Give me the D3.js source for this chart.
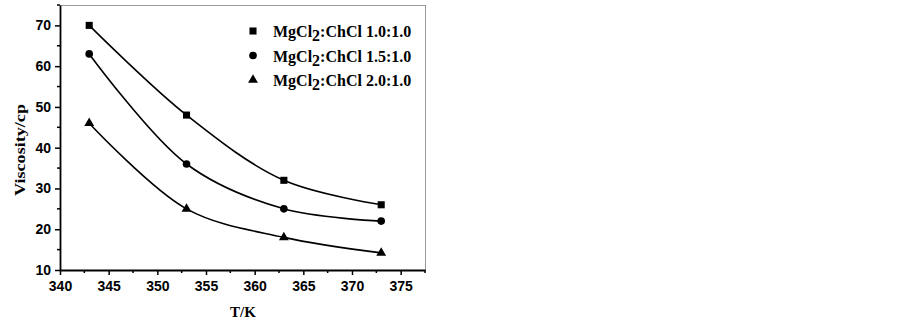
<!DOCTYPE html>
<html><head><meta charset="utf-8">
<script src="https://cdn.jsdelivr.net/npm/d3@7/dist/d3.min.js"></script>
<style>body{margin:0;background:#fff}</style>
</head><body>
<svg id="c" width="903" height="323"></svg>
<script>
const temps = [343, 353, 363, 373];
const s1 = [70, 48, 32, 26];
const s2 = [63, 36, 25, 22];
const s3 = [46, 25, 18, 14.2];
const seriesNames = ["1.0:1.0", "1.5:1.0", "2.0:1.0"];
const xTicks = [340, 345, 350, 355, 360, 365, 370, 375];
const yTicks = [10, 20, 30, 40, 50, 60, 70];

const svg = d3.select("#c");
const L = 60, R = 425, T = 5, B = 270;
const x = d3.scaleLinear().domain([340, 377.5]).range([L, R]);
const y = d3.scaleLinear().domain([10, 75]).range([B, T]);

// frame top/right
svg.append("line").attr("x1", L).attr("x2", R).attr("y1", T + 0.5).attr("y2", T + 0.5).attr("stroke", "#999").attr("stroke-width", 1);
svg.append("line").attr("x1", R + 0.5).attr("x2", R + 0.5).attr("y1", T).attr("y2", B).attr("stroke", "#999").attr("stroke-width", 1);

// minor ticks
const xMinor = d3.range(342.5, 378, 5);
const yMinor = d3.range(15, 76, 10);
svg.append("g").selectAll("line").data(xMinor).join("line")
  .attr("x1", d => x(d)).attr("x2", d => x(d)).attr("y1", B).attr("y2", B + 3)
  .attr("stroke", "#000").attr("stroke-width", 1.5);
svg.append("g").selectAll("line").data(yMinor).join("line")
  .attr("x1", L - 3).attr("x2", L).attr("y1", d => y(d)).attr("y2", d => y(d))
  .attr("stroke", "#000").attr("stroke-width", 1.5);

const xAxis = svg.append("g").attr("transform", `translate(0,${B})`)
  .call(d3.axisBottom(x).tickValues(xTicks).tickSize(5).tickSizeOuter(0));
const yAxis = svg.append("g").attr("transform", `translate(${L},0)`)
  .call(d3.axisLeft(y).tickValues(yTicks).tickSize(5).tickSizeOuter(0));
[xAxis, yAxis].forEach(g => {
  g.select(".domain").attr("stroke", "#000").attr("stroke-width", 1.8);
  g.selectAll(".tick line").attr("stroke", "#000").attr("stroke-width", 1.5);
  g.selectAll("text").attr("fill", "#000").attr("font-family", "Liberation Sans, Arial, sans-serif")
    .attr("font-weight", "bold").attr("font-size", 14);
});
xAxis.selectAll("text").attr("dy", "0.95em");
yAxis.selectAll("text").attr("dx", "-1px");

// titles
svg.append("text").attr("x", 243).attr("y", 317).attr("text-anchor", "middle")
  .attr("font-family", "Liberation Serif, Times New Roman, serif").attr("font-weight", "bold").attr("font-size", 15).text("T/K");
svg.append("text").attr("transform", "translate(25,150) rotate(-90)").attr("text-anchor", "middle")
  .attr("font-family", "Liberation Serif, Times New Roman, serif").attr("font-weight", "bold").attr("font-size", 15)
  .attr("textLength", 92).attr("lengthAdjust", "spacingAndGlyphs").text("Viscosity/cp");

const all = [s1, s2, s3];
const shapes = [d3.symbolSquare, d3.symbolCircle, d3.symbolTriangle];
const sizes = [50, 46, 42];
const line = d3.line().x((d, i) => x(temps[i])).y(d => y(d)).curve(d3.curveCatmullRom.alpha(0.5));

all.forEach((s, k) => {
  svg.append("path").datum(s).attr("d", line).attr("fill", "none").attr("stroke", "#000").attr("stroke-width", 1.6);
  svg.append("g").selectAll("path").data(s).join("path")
    .attr("transform", (d, i) => `translate(${x(temps[i])},${y(d)})`)
    .attr("d", d3.symbol().type(shapes[k]).size(sizes[k])).attr("fill", "#000");
});

// legend
const legY = [31, 55.5, 80];
seriesNames.forEach((n, k) => {
  svg.append("path").attr("transform", `translate(253,${legY[k]})`)
    .attr("d", d3.symbol().type(shapes[k]).size(sizes[k])).attr("fill", "#000");
  const t = svg.append("text").attr("x", 273).attr("y", legY[k] + 6)
    .attr("font-family", "Liberation Serif, Times New Roman, serif").attr("font-weight", "bold").attr("font-size", 16);
  t.append("tspan").text("MgCl");
  t.append("tspan").attr("dy", 4).text("2");
  t.append("tspan").attr("dy", -4).text(":ChCl " + n);
});
</script>
</body></html>
